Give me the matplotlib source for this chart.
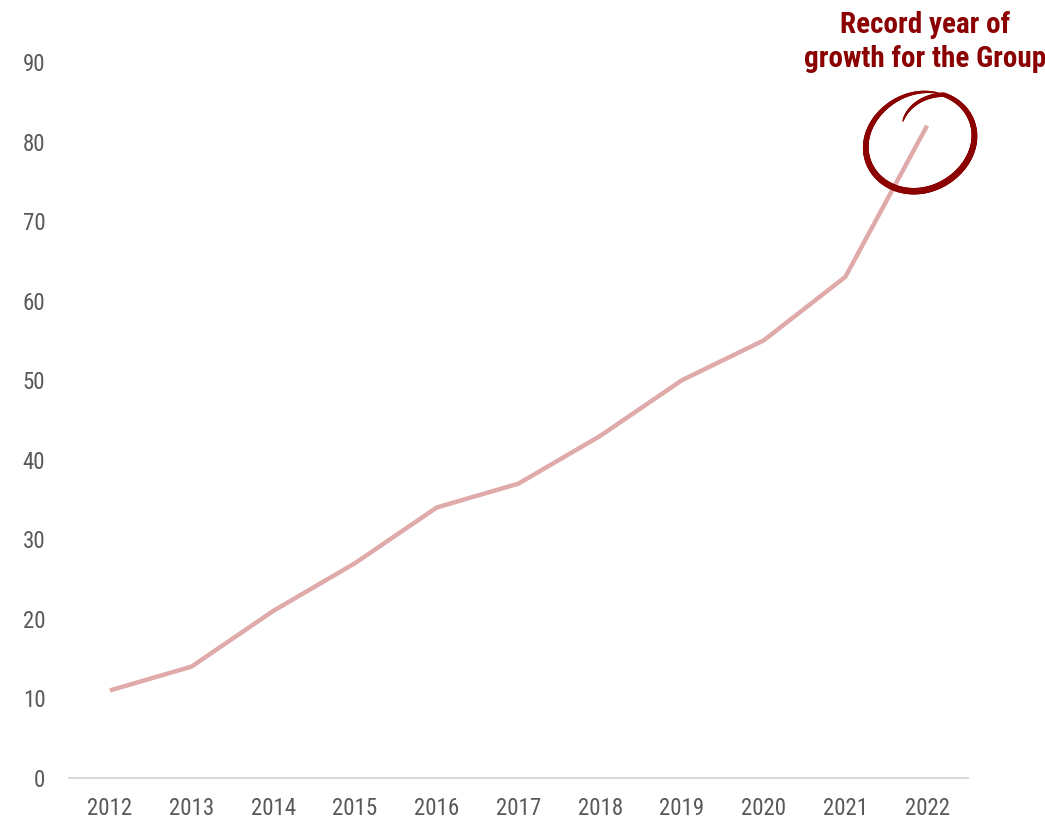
import matplotlib.pyplot as plt
import numpy as np
from matplotlib.collections import LineCollection
from matplotlib import font_manager

# Valeurs annuelles
years = ['2012', '2013', '2014', '2015', '2016', '2017',
         '2018', '2019', '2020', '2021', '2022']
values = [11, 14, 21, 27, 34, 37, 43, 50, 55, 63, 82]
y_ticks = [0, 10, 20, 30, 40, 50, 60, 70, 80, 90]

note = 'Record year of\ngrowth for the Group'

installed = {f.name for f in font_manager.fontManager.ttflist}
family = [f for f in ['Roboto Condensed', 'Liberation Sans Narrow', 'Roboto', 'DejaVu Sans']
          if f in installed]
plt.rcParams['font.family'] = family

LINE = '#e0aaaa'
DARK = '#8b0000'
GREY = '#595959'

fig = plt.figure(figsize=(10.45, 8.19), dpi=100)
ax = fig.add_axes([0.066, 0.0501, 0.8603, 0.8742])

x = np.arange(len(years))
ax.plot(x, values, color=LINE, lw=3.2, solid_capstyle='butt', zorder=2)

ax.set_xlim(-0.5, len(years) - 0.5)
ax.set_ylim(0, 90)
ax.set_xticks(x)
ax.set_xticklabels(years)
ax.set_yticks(y_ticks)
ax.tick_params(axis='both', length=0, labelsize=16.5, colors=GREY)
ax.tick_params(axis='x', pad=14)
ax.tick_params(axis='y', pad=17)

for side in ['top', 'right', 'left']:
    ax.spines[side].set_visible(False)
ax.spines['bottom'].set_color('#d9d9d9')
ax.spines['bottom'].set_linewidth(1.5)

# Cercle tracé à la main autour du dernier point
cx, cy = x[-1] - 0.086, 80.0
rx, ry = 0.66, 6.2
theta = np.linspace(np.radians(128), np.radians(-290), 300)
t = np.linspace(0, 1, len(theta))
grow = np.clip(0.55 + t * 3.0, 0, 1.0)
tilt = 0.06 * np.sin(2 * theta)
px = cx + rx * grow * np.cos(theta) * (1 + tilt)
py = cy + ry * grow * np.sin(theta) * (1 + tilt)
pts = np.column_stack([px, py]).reshape(-1, 1, 2)
segs = np.concatenate([pts[:-1], pts[1:]], axis=1)
widths = 0.7 + 4.0 * np.sin(np.pi * t[:-1]) ** 0.6
lc = LineCollection(segs, colors=DARK, linewidths=widths, capstyle='round',
                    zorder=3, clip_on=False)
ax.add_collection(lc)

fig.text(0.885, 0.986, note, ha='center', va='top', fontsize=21,
         fontweight='bold', color=DARK, linespacing=1.25)

fig.savefig('out.png', dpi=100)
